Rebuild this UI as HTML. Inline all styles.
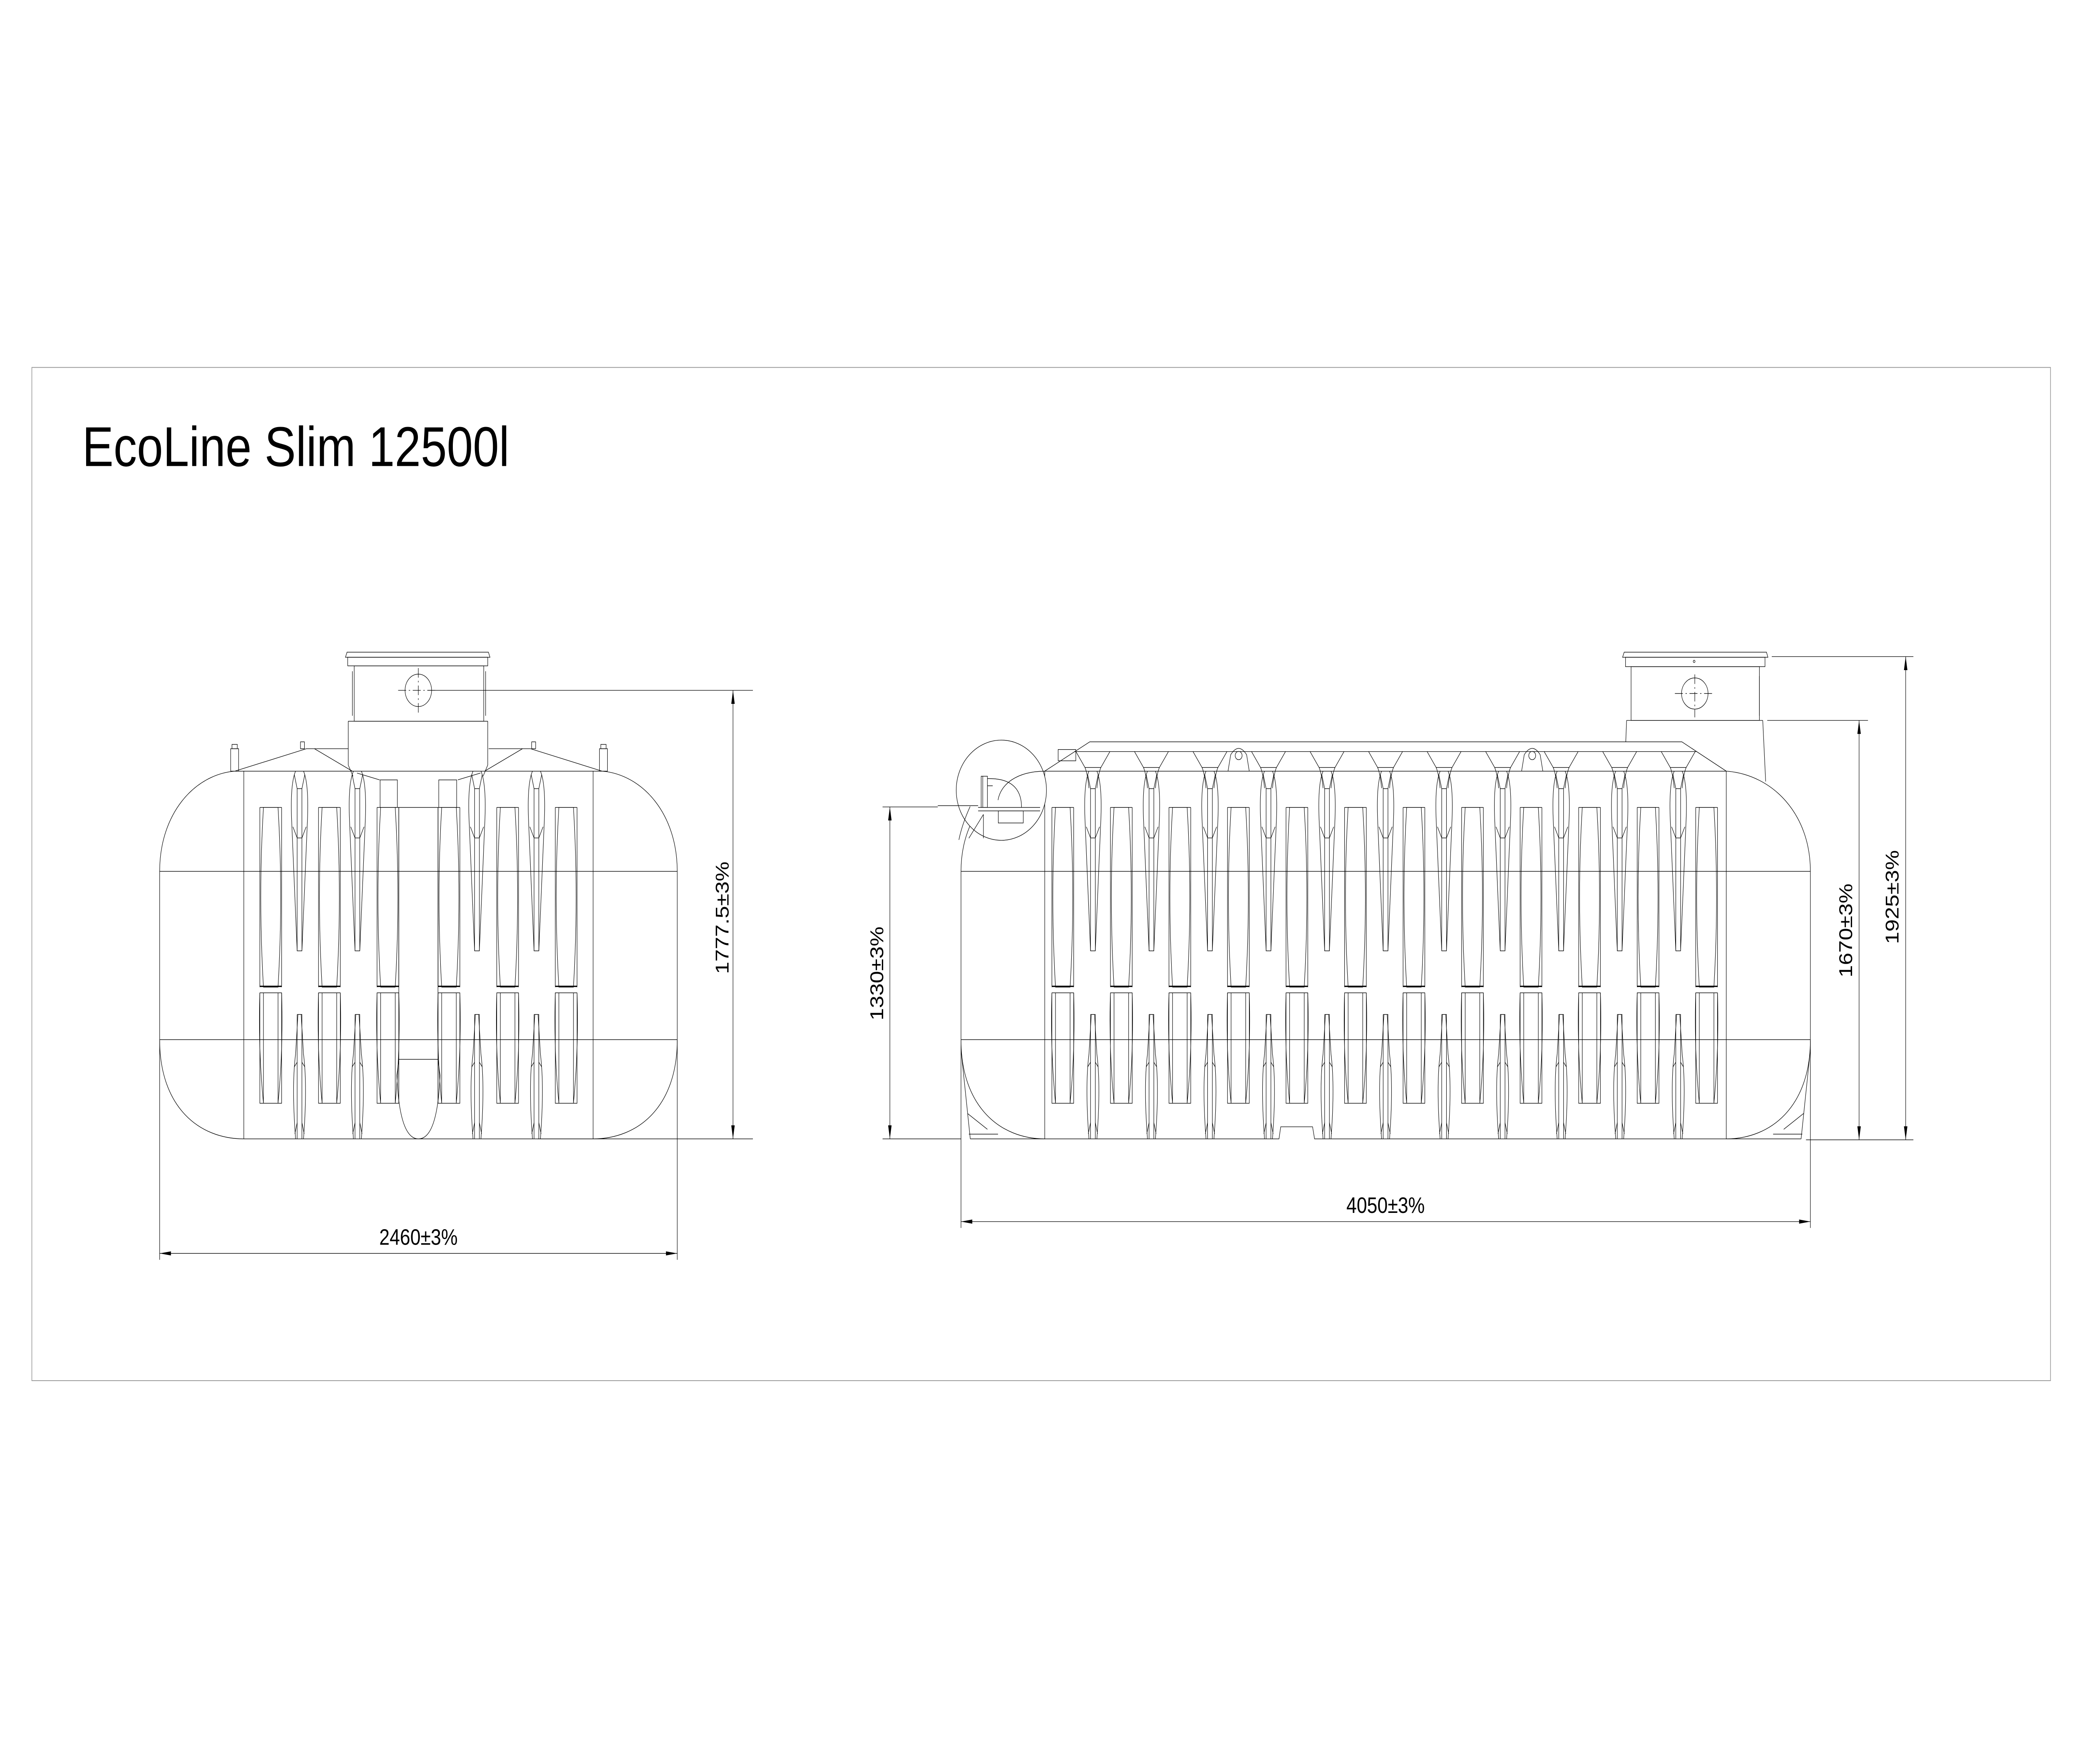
<!DOCTYPE html>
<html><head><meta charset="utf-8"><meta name="viewport" content="width=5992"><style>
html,body{margin:0;padding:0;background:#fff;overflow:hidden;width:100%;height:100%}
svg{display:block;width:100vw;height:100vh}
text{font-family:"Liberation Sans",Arial,sans-serif;fill:#000}
</style></head><body>
<svg viewBox="0 0 1568 1109" preserveAspectRatio="none" xmlns="http://www.w3.org/2000/svg">
<defs>
<g id="slotU" fill="none" stroke="#000" stroke-width="0.35">
<path d="M-5.5,0 H5.5 Q9.5,56 5.5,113 H-5.5 Q-9.5,56 -5.5,0 Z"/>
<path d="M-8.2,0 V113 M8.2,0 V113 M-8.2,0 H8.2"/>
<path d="M-8.2,112.5 H8.2" stroke-width="0.8"/>
</g>
<g id="slotL" fill="none" stroke="#000" stroke-width="0.35">
<path d="M-8.2,0 H8.2 V69.4 H-8.2 Z"/>
<path d="M-5.5,0 V69.4 M5.5,0 V69.4 M-8.2,0 Q-9.5,35 -5.5,69.4 M8.2,0 Q9.5,35 5.5,69.4"/>
</g>
<g id="spikeU" fill="none" stroke="#000" stroke-width="0.35">
<path d="M-3,0 Q-7,8 -6,30 L-1.8,113 H1.8 L6,30 Q7,8 3,0"/>
<path d="M-1.8,11 V113 M1.8,11 V113 M-1.8,11 L-4,2 M1.8,11 L4,2 M-1.8,42 L-5,35 M1.8,42 L5,35 M-1.8,42 H1.8 M-1.8,11 H1.8"/>
</g>
<g id="spikeL" fill="none" stroke="#000" stroke-width="0.35">
<path d="M-1.8,0 H1.8 V78 M-1.8,0 V78"/>
<path d="M-1.2,0 L-3,25 Q-6,45 -3,78 M1.2,0 L3,25 Q6,45 3,78"/>
<path d="M-1.8,30 L-4,33 M1.8,30 L4,33 M-1.8,68 L-3.5,75 M1.8,68 L3.5,75"/>
</g>
<g id="funnel" fill="none" stroke="#000" stroke-width="0.35">
<path d="M-12.8,0 L-6,10 Q-4,14 -3,23 M12.8,0 L6,10 Q4,14 3,23 M-6,10 H6"/>
</g>
<g id="eye" fill="none" stroke="#000" stroke-width="0.35">
<path d="M-8,12.3 L-6,2 Q0,-6 6,2 L8,12.3"/>
<circle cx="0" cy="2.5" r="2.6"/>
</g>
<path id="arrD" d="M0,0 L-1.3,-8.5 L1.3,-8.5 Z" fill="#000"/>
</defs>

<rect x="24" y="231" width="1521" height="637" fill="none" stroke="#999" stroke-width="0.5"/>
<text x="62" y="293" font-size="35.3">EcoLine Slim 12500l</text>

<!-- ================= LEFT TANK ================= -->
<g fill="none" stroke="#000" stroke-width="0.35">
<path d="M120.3,547.8 V653.6 M510.3,547.8 V653.6"/>
<path d="M120.3,547.8 C120.3,512 146,487 177,484.8"/>
<path d="M120.3,653.6 C120.3,696 150,716 183.7,716"/>
<path d="M510.3,547.8 C510.3,512 484.6,487 453.6,484.8"/>
<path d="M510.3,653.6 C510.3,696 480.6,716 446.9,716"/>
<path d="M177,484.8 H453.6 M183.7,716 H446.9"/>
<path d="M183.7,484.8 V716 M446.9,484.8 V716"/>
<path d="M120.3,547.8 H510.3 M120.3,653.6 H510.3"/>
<path d="M177,484.8 L230.9,470.7 H262.4 M453.6,484.8 L399.7,470.7 H368.2"/>
<path d="M236.9,470.7 L265.4,484.8 M393.7,470.7 L365.2,484.8"/>
<rect x="173.8" y="470.7" width="6" height="14.1"/><rect x="174.8" y="468" width="4" height="2.7"/>
<rect x="451.7" y="470.7" width="6" height="14.1"/><rect x="452.7" y="468" width="4" height="2.7"/>
<rect x="226.4" y="466.4" width="3" height="4.3"/><rect x="400.6" y="466.4" width="3" height="4.3"/>
<path d="M262.4,453.4 V481 L266,488 M367.5,453.4 V481 L364,488"/>
<path d="M269,486 L286,490.3 M362,486 L345,490.3"/>
<rect x="286.4" y="490.3" width="13" height="17.3"/><rect x="330.6" y="490.3" width="13.5" height="17.3"/>
<path d="M300.5,507.6 H330 M300.5,507.6 V693.6 M330,507.6 V693.6"/>
<path d="M300.5,666 H330 M300.5,666 L299,676 Q301,716 315.3,716 Q329.6,716 331.6,676 L330,666"/>
<path d="M262.4,453.4 H367.5"/>
<rect x="266.9" y="418.6" width="97.6" height="34.8"/>
<path d="M265.5,422 V450 M365.9,422 V450"/>
<rect x="262" y="413.2" width="105.5" height="5.4"/>
<path d="M260.3,413.2 L261.5,410 H368 L369.2,413.2 Z"/>
<ellipse cx="315.2" cy="434" rx="10" ry="10.2"/>
<path d="M300,434 H330 M315.2,420 V448" stroke-dasharray="6,2,1,2"/>
</g>
<g>
<use href="#slotU" x="204" y="507.6"/><use href="#slotU" x="248.2" y="507.6"/><use href="#slotU" x="292.3" y="507.6"/>
<use href="#slotU" x="338.3" y="507.6"/><use href="#slotU" x="382.5" y="507.6"/><use href="#slotU" x="426.6" y="507.6"/>
<use href="#slotL" x="204" y="624.2"/><use href="#slotL" x="248.2" y="624.2"/><use href="#slotL" x="292.3" y="624.2"/>
<use href="#slotL" x="338.3" y="624.2"/><use href="#slotL" x="382.5" y="624.2"/><use href="#slotL" x="426.6" y="624.2"/>
<use href="#spikeU" x="225.7" y="484.8"/><use href="#spikeU" x="269.3" y="484.8"/><use href="#spikeU" x="359.4" y="484.8"/><use href="#spikeU" x="404.2" y="484.8"/>
<use href="#spikeL" x="225.7" y="637.8"/><use href="#spikeL" x="269.3" y="637.8"/><use href="#spikeL" x="359.4" y="637.8"/><use href="#spikeL" x="404.2" y="637.8"/>
</g>
<!-- left dims -->
<g fill="none" stroke="#000" stroke-width="0.35">
<path d="M322,434 H567.3 M405,716 H567.3 M552.3,434 V716"/>
<path d="M120.3,654 V792 M510.3,654 V792 M120.3,788 H510.3"/>
</g>
<use href="#arrD" transform="translate(552.3,434) rotate(180)"/>
<use href="#arrD" transform="translate(552.3,716)"/>
<use href="#arrD" transform="translate(120.3,788) rotate(90)"/>
<use href="#arrD" transform="translate(510.3,788) rotate(-90)"/>
<text x="315.3" y="782.5" font-size="14" text-anchor="middle">2460±3%</text>
<text transform="translate(549,577) rotate(-90)" font-size="14" text-anchor="middle">1777.5±3%</text>

<!-- ================= RIGHT TANK ================= -->
<g fill="none" stroke="#000" stroke-width="0.35">
<path d="M724.1,547.8 V653.6 M1364.1,547.8 V653.6"/>
<path d="M724.1,547.8 C724.1,512 752,487 787.2,484.8"/>
<path d="M724.1,653.6 C724.1,696 754,716 787.2,716"/>
<path d="M1364.1,547.8 C1364.1,512 1336,487 1300.7,484.8"/>
<path d="M1364.1,653.6 C1364.1,696 1334,716 1300.7,716"/>
<path d="M787.2,484.8 V716 M1300.7,484.8 V716"/>
<path d="M724.1,547.8 H1364.1 M724.1,653.6 H1364.1"/>
<path d="M787.2,484.8 H1300.7"/>
<path d="M724.1,660 L731.1,716 M1364.1,660 L1357.1,716 M729,700 L744,710 M1359,700 L1344,710 M730,713 H752 M1358,713 H1336"/>
<path d="M731.1,716 H963.7 L965,708.4 H989 L990.5,716 H1357.1"/>
<path d="M787.2,484.8 L821.1,466.4 H1267.3 L1300.7,484.8"/>
<path d="M809.4,472.5 H1278.2"/>
<rect x="797.3" y="471.2" width="13.3" height="7.1"/>
<path d="M1225.6,452.9 L1225,466.4 M1328.2,452.9 L1330.4,491.3 M1225.6,452.9 H1328.2"/>
<rect x="1229" y="419.1" width="96.7" height="33.8"/>
<path d="M1325.7,425 V450"/>
<rect x="1224.8" y="413.2" width="105.1" height="5.9"/>
<path d="M1222.6,413.2 L1223.8,410 H1331 L1332.1,413.2 Z"/>
<ellipse cx="1277" cy="436" rx="10" ry="9.8"/>
<path d="M1262,436 H1292 M1277,424 V451" stroke-dasharray="6,2,1,2"/>
<circle cx="1276.5" cy="415.8" r="0.7"/>
<ellipse cx="754.5" cy="496.8" rx="34" ry="31.5" fill="#fff"/>
<path d="M787.2,484.8 C766,485 754,493 752,503" />
<rect x="739.3" y="488" width="4.7" height="19.6"/>
<path d="M740.5,488 V507.6"/>
<path d="M744,489.5 Q769.7,489 769.7,507.6 M744,494 H748"/>
<path d="M737,507.6 H783.7 M737,509.8 H783.7"/>
<rect x="752.2" y="509.8" width="18.8" height="7.6"/>
<path d="M731,507 Q725,518 722.5,528 M741,512 V527 M741,512 L730,527"/>
<path d="M706.6,506.5 H737"/>
</g>
<g>
<use href="#slotU" x="800.8" y="507.6"/><use href="#slotU" x="844.9" y="507.6"/><use href="#slotU" x="889" y="507.6"/><use href="#slotU" x="933.1" y="507.6"/>
<use href="#slotU" x="977.2" y="507.6"/><use href="#slotU" x="1021.3" y="507.6"/><use href="#slotU" x="1065.4" y="507.6"/><use href="#slotU" x="1109.5" y="507.6"/>
<use href="#slotU" x="1153.6" y="507.6"/><use href="#slotU" x="1197.7" y="507.6"/><use href="#slotU" x="1241.8" y="507.6"/><use href="#slotU" x="1285.9" y="507.6"/>
<use href="#slotL" x="800.8" y="624.2"/><use href="#slotL" x="844.9" y="624.2"/><use href="#slotL" x="889" y="624.2"/><use href="#slotL" x="933.1" y="624.2"/>
<use href="#slotL" x="977.2" y="624.2"/><use href="#slotL" x="1021.3" y="624.2"/><use href="#slotL" x="1065.4" y="624.2"/><use href="#slotL" x="1109.5" y="624.2"/>
<use href="#slotL" x="1153.6" y="624.2"/><use href="#slotL" x="1197.7" y="624.2"/><use href="#slotL" x="1241.8" y="624.2"/><use href="#slotL" x="1285.9" y="624.2"/>
</g>
<g>
<use href="#funnel" x="823.5" y="472.5"/><use href="#funnel" x="867.6" y="472.5"/><use href="#funnel" x="911.7" y="472.5"/><use href="#funnel" x="955.8" y="472.5"/>
<use href="#funnel" x="999.9" y="472.5"/><use href="#funnel" x="1044" y="472.5"/><use href="#funnel" x="1088.1" y="472.5"/><use href="#funnel" x="1132.2" y="472.5"/>
<use href="#funnel" x="1176.3" y="472.5"/><use href="#funnel" x="1220.4" y="472.5"/><use href="#funnel" x="1264.5" y="472.5"/>
<use href="#spikeU" x="823.5" y="484.8"/><use href="#spikeU" x="867.6" y="484.8"/><use href="#spikeU" x="911.7" y="484.8"/><use href="#spikeU" x="955.8" y="484.8"/>
<use href="#spikeU" x="999.9" y="484.8"/><use href="#spikeU" x="1044" y="484.8"/><use href="#spikeU" x="1088.1" y="484.8"/><use href="#spikeU" x="1132.2" y="484.8"/>
<use href="#spikeU" x="1176.3" y="484.8"/><use href="#spikeU" x="1220.4" y="484.8"/><use href="#spikeU" x="1264.5" y="484.8"/>
<use href="#spikeL" x="823.5" y="637.8"/><use href="#spikeL" x="867.6" y="637.8"/><use href="#spikeL" x="911.7" y="637.8"/><use href="#spikeL" x="955.8" y="637.8"/>
<use href="#spikeL" x="999.9" y="637.8"/><use href="#spikeL" x="1044" y="637.8"/><use href="#spikeL" x="1088.1" y="637.8"/><use href="#spikeL" x="1132.2" y="637.8"/>
<use href="#spikeL" x="1176.3" y="637.8"/><use href="#spikeL" x="1220.4" y="637.8"/><use href="#spikeL" x="1264.5" y="637.8"/>
<use href="#eye" x="933.3" y="472.5"/><use href="#eye" x="1154.5" y="472.5"/>
</g>
<g fill="none" stroke="#000" stroke-width="0.35">
<path d="M665,507.3 H706.6 M665,716 H724.1 M670.5,507.3 V716"/>
<path d="M724.1,654 V772 M1364.1,654 V772 M724.1,768 H1364.1"/>
<path d="M1331.6,452.9 H1407.5 M1335,412.8 H1441.7 M1360.8,716.6 H1441.7 M1400.8,452.9 V716.6 M1435.9,412.8 V716.6"/>
</g>
<use href="#arrD" transform="translate(670.5,507.3) rotate(180)"/>
<use href="#arrD" transform="translate(670.5,716)"/>
<use href="#arrD" transform="translate(724.1,768) rotate(90)"/>
<use href="#arrD" transform="translate(1364.1,768) rotate(-90)"/>
<use href="#arrD" transform="translate(1400.8,452.9) rotate(180)"/>
<use href="#arrD" transform="translate(1400.8,716.6)"/>
<use href="#arrD" transform="translate(1435.9,412.8) rotate(180)"/>
<use href="#arrD" transform="translate(1435.9,716.6)"/>
<text x="1044" y="762.5" font-size="14" text-anchor="middle">4050±3%</text>
<text transform="translate(665.5,612) rotate(-90)" font-size="14" text-anchor="middle">1330±3%</text>
<text transform="translate(1395.5,585) rotate(-90)" font-size="14" text-anchor="middle">1670±3%</text>
<text transform="translate(1430.5,564) rotate(-90)" font-size="14" text-anchor="middle">1925±3%</text>
</svg>
</body></html>
